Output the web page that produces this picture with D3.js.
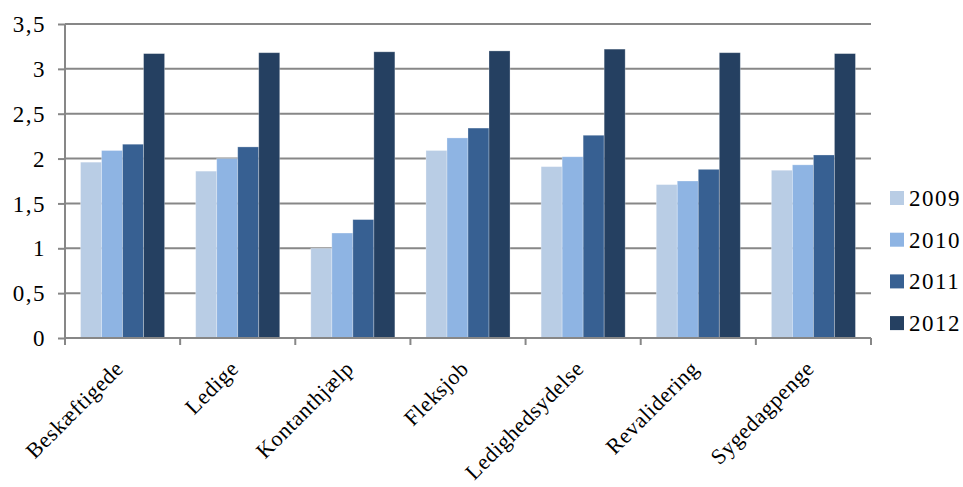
<!DOCTYPE html>
<html>
<head>
<meta charset="utf-8">
<script src="https://cdn.jsdelivr.net/npm/d3@7"></script>
<style>
  html, body { margin: 0; padding: 0; background: #fff; }
  svg text { font-family: "Liberation Serif", "DejaVu Serif", serif; fill: #000; }
</style>
</head>
<body>
<svg id="chart" width="963" height="487"></svg>
<script>
const categories = ["Beskæftigede", "Ledige", "Kontanthjælp", "Fleksjob", "Ledighedsydelse", "Revalidering", "Sygedagpenge"];
const years = ["2009", "2010", "2011", "2012"];
const values2009 = [1.96, 1.86, 1.00, 2.09, 1.91, 1.71, 1.87];
const values2010 = [2.09, 2.00, 1.17, 2.23, 2.02, 1.75, 1.93];
const values2011 = [2.16, 2.13, 1.32, 2.34, 2.26, 1.88, 2.04];
const values2012 = [3.17, 3.18, 3.19, 3.20, 3.22, 3.18, 3.17];
const yTicks = [0, 0.5, 1, 1.5, 2, 2.5, 3, 3.5];
const colors = ["#B9CDE5", "#8EB4E3", "#376092", "#254061"];

const seriesValues = [values2009, values2010, values2011, values2012];
const rows = categories.map((c, i) => ({ category: c, vals: seriesValues.map(s => s[i]) }));

const svg = d3.select("#chart");
const margin = { left: 65, right: 92, top: 24, bottom: 149 };
const W = 963, H = 487;
const x0 = margin.left, x1 = W - margin.right;
const yTop = margin.top, yBot = H - margin.bottom;

const x = d3.scaleBand().domain(categories).range([x0, x1]).paddingInner(0).paddingOuter(0);
const inner = d3.scaleBand().domain(years).range([0, x.bandwidth()]).paddingInner(0).paddingOuter(0.74);
const y = d3.scaleLinear().domain([0, 3.5]).range([yBot, yTop]);
const gridColor = "#878787";

// horizontal gridlines
svg.append("g").selectAll("line").data(yTicks.filter(t => t > 0)).join("line")
  .attr("x1", x0).attr("x2", x1)
  .attr("y1", d => y(d)).attr("y2", d => y(d))
  .attr("stroke", gridColor).attr("stroke-width", 2);

// bars
const groups = svg.append("g").selectAll("g").data(rows).join("g")
  .attr("transform", d => `translate(${x(d.category)},0)`);
groups.selectAll("rect").data(d => d.vals.map((v, k) => ({ v, k }))).join("rect")
  .attr("x", d => inner(years[d.k]))
  .attr("width", inner.bandwidth())
  .attr("y", d => y(d.v))
  .attr("height", d => y(0) - y(d.v))
  .attr("fill", d => colors[d.k])
  .attr("stroke", "rgba(255,255,255,0.35)")
  .attr("stroke-width", 0.8);

// y axis
const yAxis = d3.axisLeft(y).tickValues(yTicks).tickSize(7).tickPadding(12)
  .tickFormat(d => d3.format("")(d).replace(".", ","));
const gy = svg.append("g").attr("transform", `translate(${x0},0)`).call(yAxis);
gy.select(".domain").attr("stroke", gridColor).attr("stroke-width", 2).attr("d", `M0,${yTop}V${yBot}`);
gy.selectAll(".tick line").attr("stroke", gridColor).attr("stroke-width", 2);
gy.selectAll(".tick text").style("font-size", "23px").style("letter-spacing", "1.5px").attr("dy", "0.33em");

// x axis
const xAxis = d3.axisBottom(x).tickSize(0).tickFormat("");
const gx = svg.append("g").attr("transform", `translate(0,${yBot})`).call(xAxis);
gx.select(".domain").attr("stroke", gridColor).attr("stroke-width", 2).attr("d", `M${x0},0H${x1}`);
gx.selectAll(".tick").remove();
gx.selectAll("line.sep").data(d3.range(categories.length + 1)).join("line")
  .attr("class", "sep")
  .attr("x1", i => x0 + i * x.step()).attr("x2", i => x0 + i * x.step())
  .attr("y1", 0).attr("y2", 7)
  .attr("stroke", gridColor).attr("stroke-width", 2);

// category labels, rotated
svg.append("g").selectAll("text").data(categories).join("text")
  .attr("transform", d => `translate(${x(d) + x.bandwidth() / 2 + 2},${yBot + 32}) rotate(-45)`)
  .attr("text-anchor", "end")
  .style("font-size", "22px")
  .style("letter-spacing", "0.6px")
  .text(d => d);

// legend
const legend = svg.append("g").selectAll("g").data(years).join("g")
  .attr("transform", (d, i) => `translate(890,${198 + i * 41.7})`);
legend.append("rect").attr("x", 0).attr("y", -7).attr("width", 14).attr("height", 14)
  .attr("fill", (d, i) => colors[i]);
legend.append("text").attr("x", 19).attr("y", 0).attr("dy", "0.35em")
  .style("font-size", "23px").style("letter-spacing", "1.5px").text(d => d);
</script>
</body>
</html>
